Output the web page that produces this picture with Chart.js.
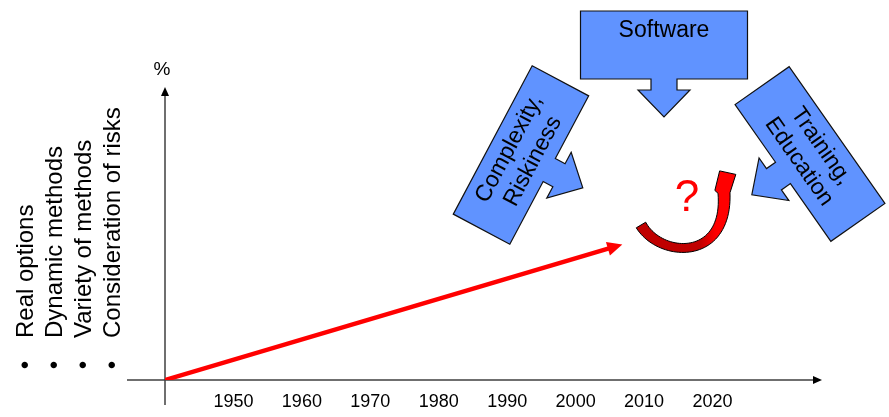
<!DOCTYPE html>
<html>
<head>
<meta charset="utf-8">
<script src="https://cdn.jsdelivr.net/npm/chart.js@4/dist/chart.umd.min.js"></script>
<style>
html, body { margin: 0; padding: 0; background: #fff; }
canvas { display: block; }
</style>
</head>
<body>
<canvas id="chart1" width="889" height="417"></canvas>
<script>
// data
const yearTicks = [1950, 1960, 1970, 1980, 1990, 2000, 2010, 2020]
const trendYears = [1940, 2005]
const trendValues = [0, 45]
const bulletItems = ['Real options', 'Dynamic methods', 'Variety of methods', 'Consideration of risks']
const softwareText = ['Software']
const complexityText = ['Complexity,', 'Riskiness']
const trainingText = ['Training,', 'Education']
const axisUnit = '%'
const questionMark = '?'

const FONT = '"Liberation Sans", Arial, sans-serif'
const BLUE = '#6093ff'

function arrowHead(ctx, x, y, dx, dy, len, half, color) {
    const a = Math.atan2(dy, dx)
    ctx.save()
    ctx.translate(x, y)
    ctx.rotate(a)
    ctx.beginPath()
    ctx.moveTo(0, 0)
    ctx.lineTo(-len, -half)
    ctx.lineTo(-len, half)
    ctx.closePath()
    ctx.fillStyle = color
    ctx.fill()
    ctx.restore()
}

// block with an arrow coming out of its lower side, then rotated
function callout(ctx, cx, cy, angle, w, h, lines, textDy) {
    const hw = w / 2, hh = h / 2
    ctx.save()
    ctx.translate(cx, cy)
    ctx.rotate(angle * Math.PI / 180)
    ctx.beginPath()
    ctx.moveTo(-hw, -hh)
    ctx.lineTo(hw, -hh)
    ctx.lineTo(hw, hh)
    ctx.lineTo(13, hh)
    ctx.lineTo(13, hh + 11)
    ctx.lineTo(26, hh + 11)
    ctx.lineTo(0, hh + 38)
    ctx.lineTo(-26, hh + 11)
    ctx.lineTo(-13, hh + 11)
    ctx.lineTo(-13, hh)
    ctx.lineTo(-hw, hh)
    ctx.closePath()
    ctx.fillStyle = BLUE
    ctx.fill()
    ctx.lineWidth = 1.2
    ctx.strokeStyle = '#111'
    ctx.stroke()
    ctx.fillStyle = '#000'
    ctx.font = '23px ' + FONT
    ctx.textAlign = 'center'
    ctx.textBaseline = 'middle'
    lines.forEach((t, i) => {
        ctx.fillText(t, 0, textDy + (i - (lines.length - 1) / 2) * 27)
    })
    ctx.restore()
}

function bez(p0, p1, p2, p3, t) {
    const u = 1 - t
    return [
        u * u * u * p0[0] + 3 * u * u * t * p1[0] + 3 * u * t * t * p2[0] + t * t * t * p3[0],
        u * u * u * p0[1] + 3 * u * u * t * p1[1] + 3 * u * t * t * p2[1] + t * t * t * p3[1]
    ]
}

function curvedArrow(ctx) {
    const P0 = [641, 225], P1 = [660, 258], P2 = [728, 262], P3 = [724, 193]
    const outer = [], inner = []
    const n = 48
    let T = [0, -1], N = [1, 0]
    for (let i = 0; i <= n; i++) {
        const t = i / n
        const p = bez(P0, P1, P2, P3, t)
        const q = bez(P0, P1, P2, P3, Math.min(1, t + 0.01))
        const r = bez(P0, P1, P2, P3, Math.max(0, t - 0.01))
        let tx = q[0] - r[0], ty = q[1] - r[1]
        const l = Math.hypot(tx, ty)
        tx /= l; ty /= l
        const w = 5.5 - 1.3 * Math.sin(Math.PI * t) + 0.5 * t
        outer.push([p[0] - ty * w, p[1] + tx * w])
        inner.push([p[0] + ty * w, p[1] - tx * w])
        if (i === n) { T = [tx, ty]; N = [-ty, tx] }
    }
    const at = (a, b) => [P3[0] + N[0] * a + T[0] * b, P3[1] + N[1] * a + T[1] * b]
    ctx.beginPath()
    outer.forEach((p, i) => i ? ctx.lineTo(p[0], p[1]) : ctx.moveTo(p[0], p[1]))
    let p = at(12.7, 18); ctx.lineTo(p[0], p[1])
    p = at(-3.3, 22.3); ctx.lineTo(p[0], p[1])
    p = at(-9, 3); ctx.lineTo(p[0], p[1])
    for (let i = inner.length - 1; i >= 0; i--) ctx.lineTo(inner[i][0], inner[i][1])
    ctx.closePath()
    const g = ctx.createLinearGradient(700, 0, 716, 0)
    g.addColorStop(0, '#c00000')
    g.addColorStop(1, '#ff0000')
    ctx.fillStyle = g
    ctx.fill()
    ctx.lineWidth = 1
    ctx.strokeStyle = '#000'
    ctx.stroke()
}

const decor = {
    id: 'decor',
    beforeDatasetsDraw(chart) {
        const ctx = chart.ctx
        const xs = chart.scales.x, ys = chart.scales.y
        const x0 = xs.getPixelForValue(xs.min), y0 = ys.getPixelForValue(0)
        const xEnd = xs.getPixelForValue(xs.max), yTop = ys.getPixelForValue(ys.max)
        ctx.save()
        ctx.strokeStyle = '#404040'
        ctx.lineWidth = 1.5
        ctx.beginPath()
        ctx.moveTo(x0 - 38, y0)
        ctx.lineTo(xEnd - 6, y0)
        ctx.moveTo(x0, y0 + 25)
        ctx.lineTo(x0, yTop + 6)
        ctx.stroke()
        arrowHead(ctx, xEnd, y0, 1, 0, 9, 4, '#000')
        arrowHead(ctx, x0, yTop, 0, -1, 9, 4, '#000')
        ctx.fillStyle = '#000'
        ctx.font = '19px ' + FONT
        ctx.textAlign = 'center'
        ctx.textBaseline = 'middle'
        ctx.fillText(axisUnit, x0 - 3, yTop - 17)

        // rotated bullet list
        ctx.font = '24px ' + FONT
        bulletItems.forEach((t, i) => {
            ctx.save()
            ctx.translate(33 + 29 * i, 338)
            ctx.rotate(-Math.PI / 2)
            ctx.textBaseline = 'alphabetic'
            ctx.textAlign = 'left'
            ctx.fillText(t, 0, 0)
            ctx.textAlign = 'center'
            ctx.fillText('\u2022', -27, 0)
            ctx.restore()
        })
        ctx.restore()
    },
    afterDatasetsDraw(chart) {
        const ctx = chart.ctx
        const pts = chart.getDatasetMeta(0).data
        const a = pts[pts.length - 2], b = pts[pts.length - 1]
        const dx = b.x - a.x, dy = b.y - a.y, l = Math.hypot(dx, dy)
        ctx.save()
        arrowHead(ctx, b.x + dx / l * 13, b.y + dy / l * 13, dx, dy, 15, 7, '#ff0000')

        callout(ctx, 664, 45, 0, 167, 68, softwareText, -14)
        callout(ctx, 521, 155, -62, 168, 64, complexityText, 0)
        callout(ctx, 810, 154, 55, 167, 66, trainingText, 0)

        curvedArrow(ctx)
        ctx.fillStyle = '#ff0000'
        ctx.font = '44px ' + FONT
        ctx.textAlign = 'center'
        ctx.textBaseline = 'middle'
        ctx.fillText(questionMark, 687, 199)
        ctx.restore()
    }
}

const ctx = document.querySelector('#chart1').getContext('2d')
const chart1 = new Chart(ctx, {
    type: 'line',
    data: {
        datasets: [{
            data: trendYears.map((x, i) => ({ x: x, y: trendValues[i] })),
            borderColor: '#ff0000',
            borderWidth: 4.5,
            pointRadius: 0,
            fill: false,
            tension: 0
        }]
    },
    options: {
        responsive: false,
        animation: false,
        layout: {
            padding: { left: 165, right: 67, top: 87, bottom: 0 }
        },
        plugins: {
            legend: { display: false },
            tooltip: { enabled: false }
        },
        scales: {
            x: {
                type: 'linear',
                min: 1940,
                max: 2036,
                afterBuildTicks: s => { s.ticks = yearTicks.map(v => ({ value: v })) },
                afterFit: s => { s.height = 37 },
                grid: { display: false, drawTicks: false },
                border: { display: false },
                ticks: {
                    color: '#000',
                    padding: 11,
                    autoSkip: false,
                    maxRotation: 0,
                    font: { family: FONT, size: 18 },
                    callback: v => String(v)
                }
            },
            y: {
                display: false,
                min: 0,
                max: 100
            }
        }
    },
    plugins: [decor]
})
</script>
</body>
</html>
